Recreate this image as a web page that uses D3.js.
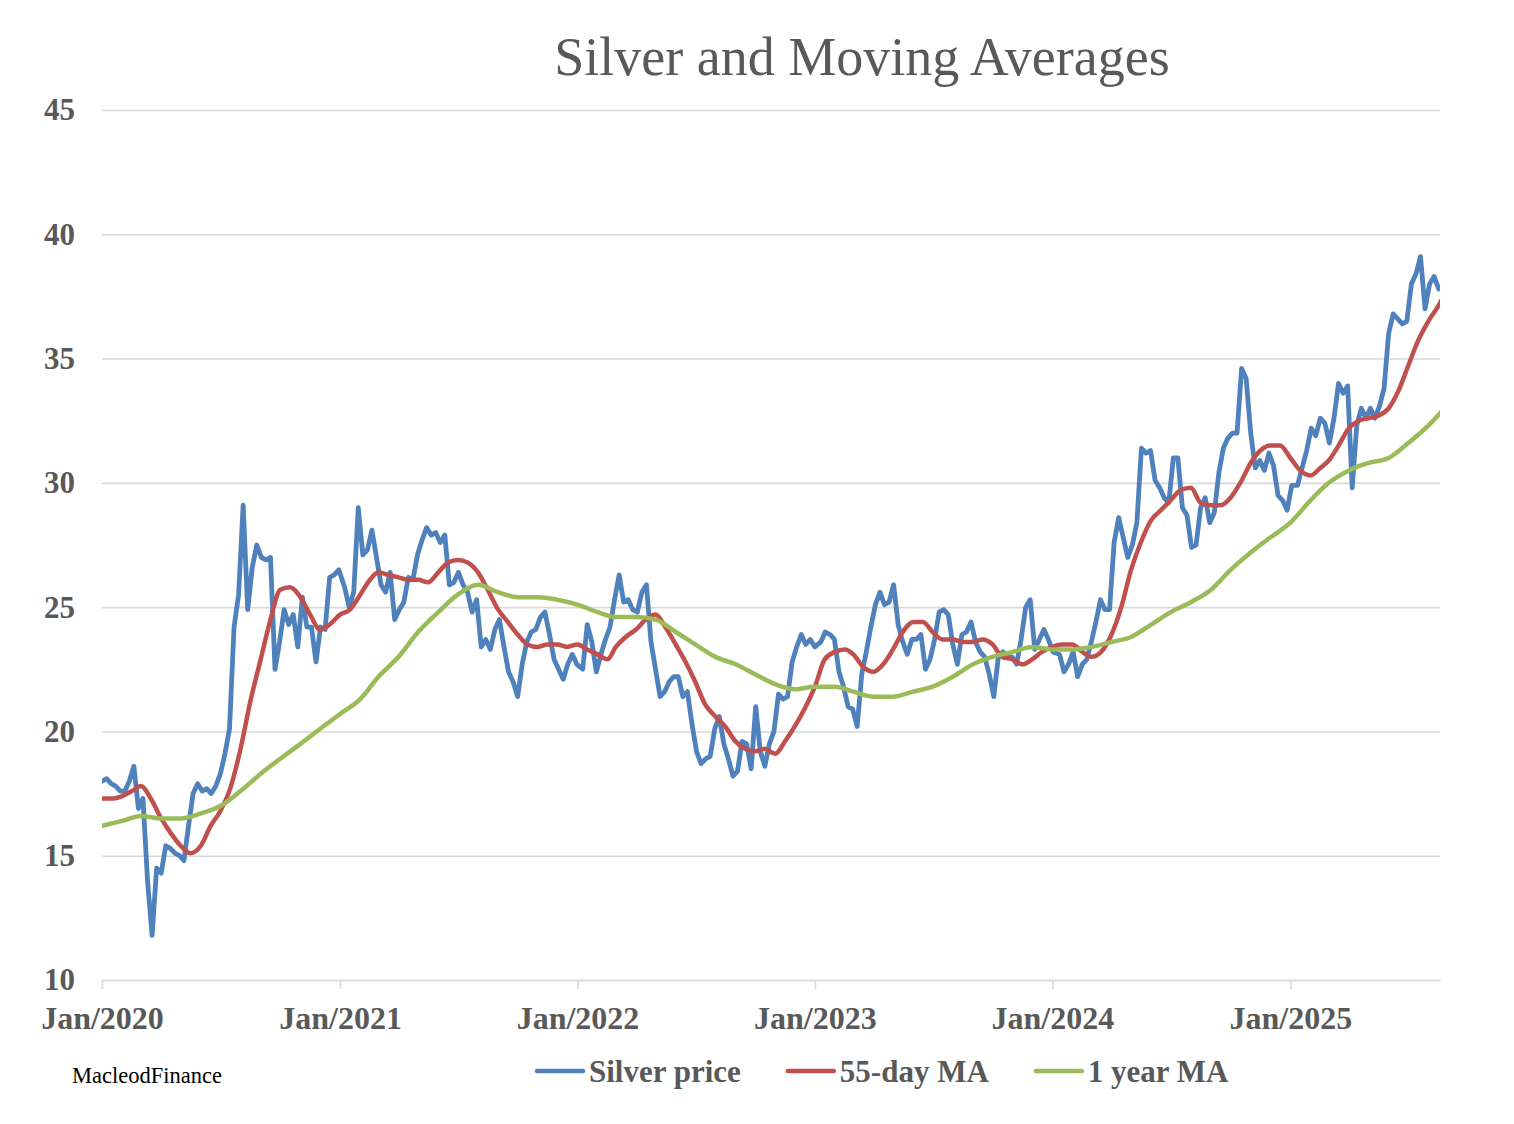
<!DOCTYPE html>
<html>
<head>
<meta charset="utf-8">
<script src="https://cdn.jsdelivr.net/npm/d3@7"></script>
<style>
  body { margin: 0; background: #fff; }
  svg { display: block; }
  .axis text { font-family: "Liberation Serif", "DejaVu Serif", serif; font-weight: bold; fill: #595959; }
  .axis line, .axis path { stroke: #d9d9d9; stroke-width: 1.6; }
</style>
</head>
<body>
<div id="chart"></div>
<script>
// weekly silver closes, one array per year, each with its first sample date
var silverStarts = ["2020-01-01", "2021-01-08", "2022-01-09", "2023-01-10", "2024-01-12", "2025-01-12"];
var silver2020 = [18.0, 18.1, 17.9, 17.8, 17.6, 17.6, 18.0, 18.6, 16.9, 17.3, 14.0, 11.8, 14.5, 14.3, 15.4, 15.3, 15.1, 15.0, 14.8, 16.2,
  17.5, 17.9, 17.6, 17.7, 17.5, 17.8, 18.3, 19.1, 20.1, 24.2, 25.5, 29.1, 24.9, 26.6, 27.5, 27.0, 26.9, 27.0, 22.5, 23.6,
  24.9, 24.3, 24.7, 23.4, 25.4, 24.2, 24.2, 22.8, 24.2, 24.1, 26.2, 26.3, 26.5];
var silver2021 = [25.8, 25.0, 25.6, 29.0, 27.1, 27.3, 28.1, 27.0, 25.9, 25.6, 26.4, 24.5, 24.9, 25.2, 26.2, 26.1, 27.1, 27.7, 28.2, 27.9,
  28.0, 27.6, 27.9, 25.9, 26.0, 26.4, 25.9, 25.6, 24.8, 25.3, 23.4, 23.7, 23.3, 24.1, 24.5, 23.4, 22.4, 22.0, 21.4, 22.7,
  23.6, 24.0, 24.1, 24.6, 24.8, 23.9, 22.9, 22.5, 22.1, 22.7, 23.1, 22.7];
var silver2022 = [22.5, 24.3, 23.6, 22.4, 23.1, 23.7, 24.2, 25.3, 26.3, 25.2, 25.3, 24.9, 24.8, 25.6, 25.9, 23.6, 22.5, 21.4, 21.6, 22.0,
  22.2, 22.2, 21.4, 21.6, 20.3, 19.2, 18.7, 18.9, 19.0, 20.1, 20.6, 19.5, 18.9, 18.2, 18.4, 19.6, 19.5, 18.5, 21.0, 19.2,
  18.6, 19.5, 20.0, 21.5, 21.3, 21.4, 22.8, 23.4, 23.9, 23.5, 23.7, 23.4];
var silver2023 = [23.6, 24.0, 23.9, 23.7, 22.4, 21.8, 21.0, 20.9, 20.2, 22.3, 23.2, 24.2, 25.1, 25.6, 25.1, 25.2, 25.9, 24.3, 23.6, 23.1,
  23.7, 23.7, 23.9, 22.5, 22.9, 23.7, 24.8, 24.9, 24.7, 23.5, 22.7, 23.9, 24.0, 24.4, 23.6, 23.2, 23.0, 22.3, 21.4, 23.0,
  23.2, 23.0, 23.0, 22.7, 23.7, 25.0, 25.3, 23.3, 23.7, 24.1, 23.7, 23.2];
var silver2024 = [23.1, 22.4, 22.7, 23.2, 22.2, 22.7, 22.9, 23.6, 24.4, 25.3, 24.9, 24.9, 27.6, 28.6, 27.8, 27.0, 27.5, 28.4, 31.4, 31.2,
  31.3, 30.1, 29.8, 29.4, 29.2, 31.0, 31.0, 29.0, 28.7, 27.4, 27.5, 29.0, 29.4, 28.4, 28.8, 30.4, 31.4, 31.8, 32.0, 32.0,
  34.6, 34.2, 32.0, 30.6, 30.9, 30.5, 31.2, 30.7, 29.5, 29.3, 28.9, 29.9];
var silver2025 = [29.9, 30.6, 31.3, 32.2, 31.9, 32.6, 32.4, 31.6, 32.6, 34.0, 33.6, 33.9, 29.8, 32.3, 33.0, 32.6, 33.0, 32.6, 33.1, 33.8,
  36.0, 36.8, 36.6, 36.4, 36.5, 38.0, 38.4, 39.1, 37.0, 38.0, 38.3, 37.8];

// 55-day MA read on the 1st and 16th of each month from Jan 2020
var ma55 = [
  17.3, 17.3, 17.4, 17.6, 17.8, 17.3, 16.5, 15.9, 15.4, 15.1, 15.4, 16.2, 16.8, 17.7, 19.3, 21.2, 22.9, 24.5, 25.7, 25.8, 25.4, 24.7, 24.1, 24.3,
  24.7, 24.9, 25.5, 26.1, 26.4, 26.3, 26.2, 26.1, 26.1, 26.0, 26.4, 26.8, 26.9, 26.8, 26.4, 25.7, 24.9, 24.4, 23.9, 23.5, 23.4, 23.5, 23.5, 23.4,
  23.5, 23.3, 23.1, 22.9, 23.4, 23.8, 24.1, 24.5, 24.7, 24.2, 23.5, 22.8, 22.0, 21.1, 20.6, 20.2, 19.6, 19.3, 19.2, 19.3, 19.1, 19.6, 20.2, 20.9,
  21.8, 22.9, 23.2, 23.3, 23.1, 22.6, 22.4, 22.7, 23.3, 24.0, 24.4, 24.4, 24.0, 23.7, 23.7, 23.6, 23.6, 23.7, 23.5, 23.0, 22.9, 22.7, 22.9, 23.2,
  23.4, 23.5, 23.5, 23.2, 23.0, 23.2, 23.9, 25.0, 26.5, 27.6, 28.5, 28.9, 29.3, 29.7, 29.8, 29.2, 29.1, 29.1, 29.4, 30.0, 30.8, 31.3, 31.5, 31.5,
  31.0, 30.5, 30.3, 30.6, 30.9, 31.5, 32.2, 32.5, 32.6, 32.7, 33.0, 33.7, 34.7, 35.7, 36.5, 37.1, 37.9];

// 1 year MA read on the 1st of each month from Jan 2020
var ma1y = [
  16.2, 16.4, 16.6, 16.5, 16.5, 16.7, 17.0, 17.6, 18.3, 18.9, 19.5, 20.1,
  20.7, 21.3, 22.2, 23.0, 24.0, 24.8, 25.5, 25.9, 25.6, 25.4, 25.4, 25.3,
  25.1, 24.8, 24.6, 24.6, 24.5, 24.0, 23.5, 23.0, 22.7, 22.3, 21.9, 21.7,
  21.8, 21.8, 21.6, 21.4, 21.4, 21.6, 21.8, 22.2, 22.7, 23.0, 23.2, 23.4,
  23.3, 23.3, 23.4, 23.6, 23.8, 24.3, 24.8, 25.2, 25.7, 26.5, 27.2, 27.8,
  28.4, 29.3, 30.0, 30.5, 30.8, 31.0, 31.6, 32.3, 33.2];

var yTicks = [10, 15, 20, 25, 30, 35, 40, 45];
var xTickYears = [2020, 2021, 2022, 2023, 2024, 2025];
var seriesNames = ["Silver price", "55-day MA", "1 year MA"];
var seriesColors = ["#4f81bd", "#c0504d", "#9bbb59"];

(function() {
  var W = 1514, H = 1124;
  var parse = d3.timeParse("%Y-%m-%d");

  var svg = d3.select("#chart").append("svg").attr("width", W).attr("height", H);

  var x = d3.scaleTime().domain([new Date(2020, 0, 1), new Date(2025, 7, 19)]).range([102, 1440]);
  var y = d3.scaleLinear().domain([10, 45]).range([980, 110]);

  // gridlines + y labels
  var yAxis = svg.append("g").attr("class", "axis").attr("transform", "translate(102,0)")
    .call(d3.axisLeft(y).tickValues(yTicks).tickSize(-(1440 - 102)).tickPadding(27).tickFormat(d3.format("d")));
  yAxis.select(".domain").remove();
  yAxis.selectAll("text").style("font-size", "31px");

  var xAxis = svg.append("g").attr("class", "axis").attr("transform", "translate(0,980)")
    .call(d3.axisBottom(x)
      .tickValues(xTickYears.map(function(yr) { return new Date(yr, 0, 1); }))
      .tickSize(9).tickSizeOuter(0).tickPadding(17)
      .tickFormat(d3.timeFormat("Jan/%Y")));
  xAxis.selectAll("text").style("font-size", "32px");

  svg.append("clipPath").attr("id", "plotclip").append("rect")
    .attr("x", 102).attr("y", 90).attr("width", 1440 - 102).attr("height", 900);

  var silverYears = [silver2020, silver2021, silver2022, silver2023, silver2024, silver2025];
  var silverPts = [];
  silverYears.forEach(function(vals, j) {
    var start = parse(silverStarts[j]);
    vals.forEach(function(v, i) { silverPts.push({ date: d3.timeDay.offset(start, 7 * i), value: v }); });
  });
  var ma55Pts = ma55.map(function(v, k) {
    return { date: new Date(2020, Math.floor(k / 2), k % 2 ? 16 : 1), value: v };
  });
  var ma1yPts = ma1y.map(function(v, m) { return { date: new Date(2020, m, 1), value: v }; });

  var plot = svg.append("g").attr("clip-path", "url(#plotclip)");
  var lineSilver = d3.line().x(function(d) { return x(d.date); }).y(function(d) { return y(d.value); });
  var lineSmooth = d3.line().curve(d3.curveMonotoneX).x(function(d) { return x(d.date); }).y(function(d) { return y(d.value); });

  var widths = [4.8, 4.5, 4.5];
  [[silverPts, lineSilver], [ma55Pts, lineSmooth], [ma1yPts, lineSmooth]].forEach(function(s, i) {
    plot.append("path").datum(s[0]).attr("d", s[1])
      .attr("fill", "none").attr("stroke", seriesColors[i]).attr("stroke-width", widths[i])
      .attr("stroke-linejoin", "round").attr("stroke-linecap", "round");
  });

  // title
  svg.append("text").attr("x", 862).attr("y", 75).attr("text-anchor", "middle")
    .style("font-family", "'Liberation Serif', serif").style("font-size", "54px").style("fill", "#595959")
    .text("Silver and Moving Averages");

  // source note
  svg.append("text").attr("x", 72).attr("y", 1083)
    .style("font-family", "'Liberation Serif', serif").style("font-size", "22.5px").style("fill", "#000")
    .text("MacleodFinance");

  // legend
  var lg = svg.append("g");
  var lx = 537;
  seriesNames.forEach(function(name, i) {
    lg.append("line").attr("x1", lx).attr("x2", lx + 46).attr("y1", 1071).attr("y2", 1071)
      .attr("stroke", seriesColors[i]).attr("stroke-width", 4.5).attr("stroke-linecap", "round");
    var t = lg.append("text").attr("x", lx + 52).attr("y", 1082)
      .style("font-family", "'Liberation Serif', serif").style("font-weight", "bold")
      .style("font-size", "31px").style("fill", "#595959").text(name);
    lx += 52 + t.node().getComputedTextLength() + 47;
  });
})();
</script>
</body>
</html>
